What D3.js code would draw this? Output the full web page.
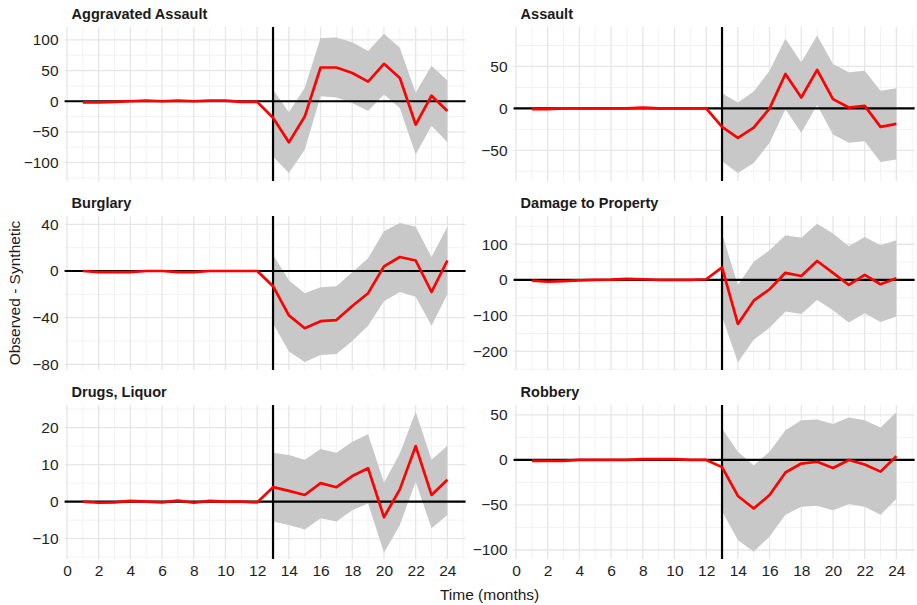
<!DOCTYPE html>
<html>
<head>
<meta charset="utf-8">
<script src="https://cdn.jsdelivr.net/npm/d3@7"></script>
<style>
  html, body { margin: 0; padding: 0; background: #fff; }
  svg { display: block; font-family: "Liberation Sans", Arial, sans-serif; }
</style>
</head>
<body>
<svg id="chart" width="917" height="605"></svg>
<script>
// ---------------- DATA ----------------
const months = d3.range(1, 25);          // 1..24
const postMonths = d3.range(13, 25);     // 13..24 (ribbon)
const xTickLabels = [0, 2, 4, 6, 8, 10, 12, 14, 16, 18, 20, 22, 24];
const interventionMonth = 13;

const panelTitles = ["Aggravated Assault", "Assault", "Burglary", "Damage to Property", "Drugs, Liquor", "Robbery"];

// Observed - Synthetic gap (months 1..24)
const aggAssaultGap = [-2, -2, -1, 0, 1, 0, 1, 0, 1, 1, -1, -1, -27, -67, -25, 55, 55, 46, 32, 61, 38, -38, 9, -16];
const aggAssaultHi  = [19, -18, 22, 103, 104, 96, 82, 110, 87, 14, 58, 34];
const aggAssaultLo  = [-90, -117, -79, 8, 6, -3, -16, 11, -11, -87, -40, -67];

const assaultGap = [-1, -1, 0, 0, 0, 0, 0, 1, 0, 0, 0, 0, -22, -35, -23, 0, 41, 13, 46, 11, 1, 3, -22, -18.5];
const assaultHi  = [18, 7, 20, 45, 83, 55, 87, 53, 43, 45, 21, 24];
const assaultLo  = [-63, -77, -65, -41, -1, -29, 4, -31, -41, -39, -64, -61];

const burglaryGap = [0, -1, -1, -1, 0, 0, -1, -1, 0, 0, 0, 0, -13, -38, -49, -43, -42, -30, -19, 4, 12, 9, -18, 9];
const burglaryHi  = [14, -8, -19, -14, -13, -1, 11, 34, 41, 38, 12, 38];
const burglaryLo  = [-45, -69, -78, -72, -71, -60, -47, -26, -18, -22, -47, -20];

const damageGap = [-2, -5, -3, -1, 0, 1, 3, 2, 0, 0, 0, 2, 35, -123, -58, -26, 20, 11, 53, 20, -14, 14, -12, 5];
const damageHi  = [130, -14, 51, 83, 125, 118, 157, 130, 94, 120, 97, 111];
const damageLo  = [-102, -230, -167, -134, -88, -95, -56, -85, -119, -93, -118, -102];

const drugsGap = [0, -0.3, -0.2, 0.2, 0, -0.2, 0.3, -0.3, 0.2, 0, 0, -0.2, 3.9, 2.9, 1.8, 5, 3.9, 6.9, 9, -4.2, 3.3, 15, 1.8, 5.9];
const drugsHi  = [13.2, 12.6, 11.3, 14.2, 13.2, 16.2, 18.2, 5.1, 13, 24.3, 11.3, 15.1];
const drugsLo  = [-5.4, -6.3, -7.5, -4.5, -5.4, -2.3, -0.5, -13.8, -6.3, 5.4, -7.2, -3.6];

const robberyGap = [-1, -1, -1, 0, 0, 0, 0, 1, 1, 1, 0, 0, -8, -40, -54, -39, -14, -4, -2, -9, 0, -5, -13, 4];
const robberyHi  = [35, 9, -6, 9, 33, 44, 45, 40, 47, 44, 36, 53];
const robberyLo  = [-57, -89, -102, -85, -61, -52, -51, -56, -49, -52, -61, -43];

const yTicks = [
  [-100, -50, 0, 50, 100],
  [-50, 0, 50],
  [-80, -40, 0, 40],
  [-200, -100, 0, 100],
  [-10, 0, 10, 20],
  [-100, -50, 0, 50]
];

const gaps = [aggAssaultGap, assaultGap, burglaryGap, damageGap, drugsGap, robberyGap];
const his  = [aggAssaultHi, assaultHi, burglaryHi, damageHi, drugsHi, robberyHi];
const los  = [aggAssaultLo, assaultLo, burglaryLo, damageLo, drugsLo, robberyLo];

// ---------------- LAYOUT ----------------
const yDomains = [[-130, 121], [-86.5, 97], [-84.8, 47.1], [-252, 179], [-15.5, 26.1], [-110, 61]];
const colLeft = [64.6, 513.6];
const rowTop = [27, 216, 405];
const panelW = 401, panelH = 154;
const xDomain = [-0.15, 25.15];

const svg = d3.select("#chart");

function minorBetween(ticks, domain) {
  const step = ticks[1] - ticks[0];
  const out = [];
  for (let v = ticks[0] - step / 2; v <= ticks[ticks.length - 1] + step / 2 + 1e-9; v += step) {
    if (v >= domain[0] && v <= domain[1]) out.push(v);
  }
  return out;
}

panelTitles.forEach((title, i) => {
  const col = i % 2, row = Math.floor(i / 2);
  const x0 = colLeft[col], y0 = rowTop[row];
  const g = svg.append("g").attr("transform", `translate(${x0},${y0})`);

  const x = d3.scaleLinear().domain(xDomain).range([0, panelW]);
  const y = d3.scaleLinear().domain(yDomains[i]).range([panelH, 0]);

  // grid
  const xMajor = xTickLabels;
  const xMinor = d3.range(1, 26, 2).filter(v => v >= xDomain[0] && v <= xDomain[1]);
  const yMinor = minorBetween(yTicks[i], yDomains[i]);

  g.append("g").selectAll("line").data(xMinor).join("line")
    .attr("x1", d => x(d)).attr("x2", d => x(d)).attr("y1", 0).attr("y2", panelH)
    .attr("stroke", "#f1f1f1").attr("stroke-width", 0.9);
  g.append("g").selectAll("line").data(yMinor).join("line")
    .attr("y1", d => y(d)).attr("y2", d => y(d)).attr("x1", 0).attr("x2", panelW)
    .attr("stroke", "#f1f1f1").attr("stroke-width", 0.9);
  g.append("g").selectAll("line").data(xMajor).join("line")
    .attr("x1", d => x(d)).attr("x2", d => x(d)).attr("y1", 0).attr("y2", panelH)
    .attr("stroke", "#e6e6e6").attr("stroke-width", 1.3);
  g.append("g").selectAll("line").data(yTicks[i]).join("line")
    .attr("y1", d => y(d)).attr("y2", d => y(d)).attr("x1", 0).attr("x2", panelW)
    .attr("stroke", "#e6e6e6").attr("stroke-width", 1.3);

  // ribbon
  const ribbonData = postMonths.map((m, k) => ({ m, lo: los[i][k], hi: his[i][k] }));
  g.append("path").datum(ribbonData)
    .attr("d", d3.area().x(d => x(d.m)).y0(d => y(d.lo)).y1(d => y(d.hi)))
    .attr("fill", "#c8c8c8");

  // reference lines
  g.append("line").attr("x1", 0).attr("x2", panelW).attr("y1", y(0)).attr("y2", y(0))
    .attr("stroke", "#000").attr("stroke-width", 2.2);
  g.append("line").attr("x1", x(interventionMonth)).attr("x2", x(interventionMonth))
    .attr("y1", 0).attr("y2", panelH).attr("stroke", "#000").attr("stroke-width", 2.2);

  // gap line
  const lineData = months.map((m, k) => ({ m, v: gaps[i][k] }));
  g.append("path").datum(lineData)
    .attr("d", d3.line().x(d => x(d.m)).y(d => y(d.v)))
    .attr("fill", "none").attr("stroke", "#ff0000").attr("stroke-width", 2.7)
    .attr("stroke-linejoin", "round");

  // y axis labels
  const yAxis = d3.axisLeft(y).tickValues(yTicks[i]).tickSize(0).tickPadding(6);
  const ya = g.append("g").call(yAxis);
  ya.select(".domain").remove();
  ya.selectAll("text").attr("font-size", 15.5).attr("fill", "#1e1e1e")
    .attr("font-family", "'Liberation Sans', Arial, sans-serif");

  // x axis labels (bottom row only)
  if (row === 2) {
    const xAxis = d3.axisBottom(x).tickValues(xTickLabels).tickSize(0).tickPadding(6);
    const xa = g.append("g").attr("transform", `translate(0,${panelH})`).call(xAxis);
    xa.select(".domain").remove();
    xa.selectAll("text").attr("font-size", 15.5).attr("fill", "#1e1e1e")
      .attr("font-family", "'Liberation Sans', Arial, sans-serif");
  }

  // title
  svg.append("text").attr("x", x0 + 7).attr("y", y0 - 8)
    .attr("font-size", 14.5).attr("font-weight", "bold").attr("fill", "#1a1a1a")
    .text(title);
});

// axis titles
svg.append("text").attr("x", (colLeft[0] + colLeft[1] + panelW) / 2).attr("y", 600)
  .attr("text-anchor", "middle").attr("font-size", 15.5).attr("fill", "#1a1a1a")
  .text("Time (months)");
svg.append("text")
  .attr("transform", `translate(20,${(rowTop[0] + rowTop[2] + panelH) / 2}) rotate(-90)`)
  .attr("text-anchor", "middle").attr("font-size", 15.5).attr("fill", "#1a1a1a")
  .text("Observed - Synthetic");
</script>
</body>
</html>
